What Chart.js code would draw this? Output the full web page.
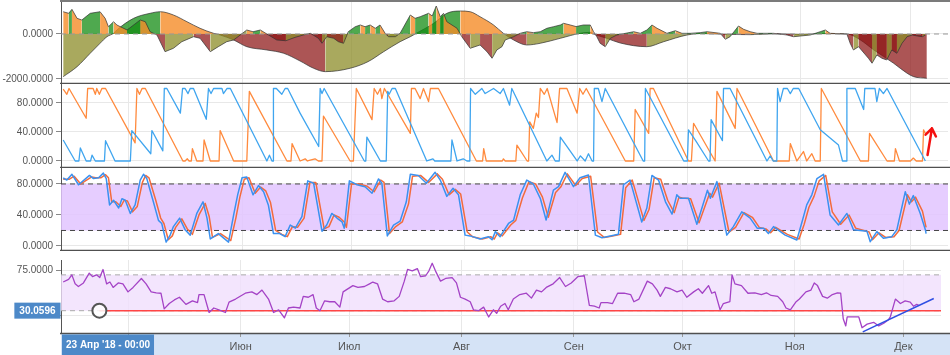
<!DOCTYPE html>
<html><head><meta charset="utf-8">
<script src="https://cdn.jsdelivr.net/npm/chart.js@4.4.0/dist/chart.umd.min.js"></script>
<style>
html,body{margin:0;padding:0;background:#fff;width:950px;height:355px;overflow:hidden}
canvas{position:absolute;left:0}
</style></head><body>
<canvas id="c1" width="950" height="84" style="top:0"></canvas>
<canvas id="c2" width="950" height="84" style="top:84px"></canvas>
<canvas id="c3" width="950" height="83" style="top:168px"></canvas>
<canvas id="c4" width="950" height="104" style="top:251px"></canvas>
<script>
// x = days since 13 Apr 2018
const xMin = -0.6, xMax = 242.4;
const monthDays = [18, 49, 79, 110, 141, 171, 202, 232];
const monthLabels = ['Май', 'Июн', 'Июл', 'Авг', 'Сен', 'Окт', 'Ноя', 'Дек'];
const crossDay = 10;
const crossLabel = "23 Апр '18 - 00:00";
const rsiMark = 30.0596;
const p1Ticks = [-2000, 0], p2Ticks = [0, 40, 80], p3Ticks = [0, 40, 80], p4Ticks = [25, 75];
const stochBands = [20, 80];
const rsiBands = [30, 70];
const rsiTrend = [[220.8, 6.4], [240.4, 43.6]];
const arrowTail = [236.8, 8.3], arrowTip = [238, 45];

const macdFast = [[0,990],[1.5,919],[2.4,1096],[3.8,697],[5.1,622],[7.4,919],[10.1,990],[11.5,697],[12.4,324],[13.8,546],[14.7,400],[17.5,178],[21.1,622],[22.5,546],[23.8,102],[25.7,-44],[27.9,-786],[30.2,-635],[32.5,-342],[35.7,-120],[37.5,-190],[40.3,-786],[42.5,-564],[44.8,-342],[46.7,-266],[50.3,178],[52,100],[54,178],[55.8,0],[58.5,-266],[61,-300],[63.5,-150],[65.8,-44],[67.7,30],[69.9,-191],[70.9,-413],[72.2,-120],[74.1,-191],[75.4,-342],[76.8,-413],[78.1,102],[80,324],[81.4,400],[82.7,324],[84.1,400],[85.5,253],[86.8,400],[88.2,30],[89.1,-120],[91,-120],[92.3,30],[95.1,844],[96.4,697],[97.8,768],[100.1,919],[101.1,800],[102.2,1243],[103.3,768],[104.2,919],[105.1,546],[107.9,253],[109.2,-120],[111.5,-635],[114.2,-488],[116.1,-786],[117.5,-1079],[118.8,-710],[120.2,-564],[121.1,-266],[123.4,-120],[125.2,30],[127,102],[128.8,60],[130.7,102],[132.5,253],[134.3,324],[136.2,400],[137.1,475],[138.9,400],[140.5,330],[142.5,400],[144.4,400],[145.3,102],[146.2,-120],[147.1,-413],[148.5,-564],[149.9,-191],[151.7,-44],[156.3,102],[158.1,30],[159.9,178],[161.3,400],[162.7,253],[165.4,30],[167.7,147],[169.5,30],[171.8,30],[174.5,60],[176.4,102],[180,30],[181.4,-235],[182.7,-120],[185,355],[186.4,209],[188.2,102],[190.1,30],[194.6,30],[198.3,-44],[200.1,-120],[204.7,-44],[207.4,102],[208.8,178],[210.1,30],[214.7,0],[215.6,-413],[216.5,-710],[217.9,-564],[220.6,-1079],[221.6,-1300],[222.9,-933],[224.3,-1079],[225.6,-1154],[227,-710],[228.4,-857],[229.8,-413],[231.2,-120],[232.6,-44],[234,-89],[235.4,-120],[236.2,-44]];

const macdSlow = [[0,-1897],[3.8,-1452],[7.4,-857],[10.1,-413],[12,-120],[13.8,30],[14.7,178],[19.3,697],[23.8,919],[26.6,990],[30.2,844],[33.9,546],[37.5,253],[41.2,30],[43,-44],[46.7,-266],[50.3,-564],[55.8,-710],[60.4,-857],[64.9,-1200],[68.6,-1523],[71.8,-1673],[78.6,-1523],[83.5,-1230],[87.8,-786],[92.3,-342],[95.1,-120],[96.4,0],[101.5,475],[105.1,919],[108.8,1021],[111.5,990],[114.2,768],[117.9,400],[120.6,30],[123.4,-266],[127,-488],[130.7,-413],[136.2,-191],[141.6,30],[144.4,75],[145.3,0],[148.9,-191],[152.6,-400],[159.9,-564],[164.5,-342],[170.9,-44],[174.5,20],[181,-10],[188.2,-30],[195,10],[201.9,-20],[208,15],[214.7,0],[218.4,-266],[222,-700],[227.5,-1300],[231.2,-1745],[233,-1897],[236.6,-1968]];

const aroonOrange = [[0,99],[1,92],[1.6,100],[6.3,59],[6.7,100],[8.2,100],[8.8,92],[9.2,100],[9.9,92],[10.6,100],[11.6,100],[19.7,25],[20.2,100],[20.9,92],[21.6,100],[22.5,100],[32.8,0],[33.4,0],[34,3],[34.5,0],[35.1,0],[35.4,17],[36.6,0],[38.3,0],[38.6,29],[40.3,0],[42.7,0],[43,42],[46.7,0],[50.3,0],[51,96],[61.3,0],[62.4,0],[62.7,24],[64.9,0],[66.3,3],[66.9,0],[69,3],[69.9,0],[70.9,0],[71.3,62],[78.6,0],[79.5,0],[80.3,100],[84.6,57],[85.2,100],[86.1,92],[86.9,100],[87.3,86],[88,100],[95.1,38],[95.4,100],[96.4,100],[97.8,86],[98.7,100],[100.1,82],[100.6,100],[102.8,100],[113.2,0],[114.9,0],[115.2,17],[115.9,0],[120.3,0],[120.6,3],[121.1,0],[124,0],[124.3,22],[127.1,0],[127.5,0],[127.8,54],[128.8,45],[129.6,66],[130.2,60],[130.7,100],[131.8,92],[132.6,100],[135.3,53],[136,100],[138,100],[140.8,66],[141.5,100],[142.4,92],[143.3,100],[154,0],[156.3,0],[156.7,71],[160.4,38],[160.8,100],[161.7,100],[171.3,0],[172.1,0],[172.7,52],[178.6,0],[178.8,0],[179.1,96],[184.1,45],[184.6,100],[194.6,0],[198.9,0],[199.2,24],[201,0],[202.8,13],[203.7,0],[205.1,10],[206,0],[207.4,0],[207.7,100],[218.4,0],[220.6,0],[220.9,38],[225.7,0],[227.7,0],[228,17],[229.1,0],[232.1,0],[232.9,4],[233.7,0],[235.4,0],[235.7,43],[236.2,38]];

const aroonBlue = [[0,29],[3.3,0],[4.3,0],[4.7,18],[6.3,0],[7.5,0],[7.9,8],[8.8,0],[11.3,0],[11.6,28],[14.2,0],[18.4,0],[18.8,42],[24,10],[24.3,42],[27.3,14],[27.7,100],[28.4,100],[32.1,66],[32.7,100],[33.4,100],[34.2,93],[34.8,100],[35.7,100],[39.2,57.5],[39.8,100],[40.5,93],[41.2,100],[43.5,100],[43.9,93],[44.9,100],[45.8,100],[55.8,0],[56.5,8],[57.2,0],[57.5,0],[57.6,100],[58.4,100],[59.9,92],[60.8,100],[61.5,100],[64.9,66],[70,20],[70.4,100],[70.9,93],[71.5,100],[82.5,0],[82.9,0],[83.2,33],[86.9,0],[88.5,0],[88.9,96],[89.3,92],[90.1,100],[91,100],[99.6,0],[101.3,3],[101.8,0],[106.2,0],[106.5,29],[107.9,0],[109.6,3],[110.6,0],[111.4,0],[111.6,100],[112.9,92],[114.7,100],[115.6,93],[117.9,100],[119.7,93],[120.6,100],[122.3,77],[122.9,100],[132.5,0],[133.9,8],[134.8,0],[135.9,0],[136.2,33],[140.8,0],[141.7,7],[143,0],[143.9,10],[144.9,0],[145.3,0],[145.5,100],[146.6,100],[147.6,82],[148.5,100],[158.9,0],[159.3,0],[159.5,100],[170,0],[171,0],[171.3,43],[173.4,27],[176.8,0],[177.2,0],[177.5,57],[180.6,28],[180.9,100],[182.7,100],[192.8,0],[193.7,7],[194.5,0],[195.5,0],[195.7,100],[196.4,82],[197.3,100],[198.4,100],[199.2,93],[200,100],[201.5,100],[207.4,43],[212.4,22],[213.5,0],[214.5,0],[214.7,100],[217,100],[219.3,71],[219.6,100],[222.4,100],[222.9,82],[223.6,100],[224.7,93],[225.7,100],[236.2,0]];

const stochBlue = [[0,88],[1,85],[2.4,92.5],[4.2,79],[7.2,91],[8.3,87],[9.7,88],[11,94],[11.8,87],[12.7,53],[13.8,59],[15.2,49],[16.1,61],[17,59],[18.4,42],[19.7,53],[21.1,85],[22,92.5],[22.9,87],[24.7,57],[26.1,33],[27,29],[28.2,5],[29.3,14],[30.2,25],[31.9,36],[33.4,21],[34.8,14],[36.6,42],[38.3,57],[39.4,36],[40.3,9],[42.5,16],[45.3,5],[46.7,40],[47.8,66],[49,88],[50.3,89],[52,66],[53.5,78],[54.9,70],[56.2,53],[57.6,16],[59.3,16],[60.8,12],[62.2,27],[63.6,23],[65.4,38],[67,84],[68.6,81],[70.9,19],[72.2,27],[73.6,42],[75,36],[76.4,31],[77,23],[78.4,84],[80.5,79],[82.7,76.5],[84.6,68],[86.4,86.5],[87.3,81],[88.8,13],[90.5,27],[92.3,32],[94,57],[95.1,92.5],[97.3,91],[99.5,81],[101.9,95],[103.3,85],[105.1,64],[106.8,74.5],[108.3,66],[110.1,14],[111.5,13],[114.2,9],[116.5,12],[117.5,8],[118.4,18.5],[119.7,12],[122,29],[123.4,33.5],[125.2,66],[127,85],[128.8,80],[130.7,61.5],[132.3,33.5],[134.3,72],[135.7,76.5],[137.5,95],[139.8,76.5],[141.6,88],[143.9,91.6],[145.8,14],[147.6,10.7],[149.9,13],[152.1,15],[153.5,79],[155.3,85],[158.5,31],[159.9,49],[161.3,91],[163.1,85],[165,57],[166.8,41],[168.1,66],[169,61.5],[171.3,61.5],[173.6,28],[176.5,72],[177.3,61.5],[179.1,83],[181.8,14],[183.6,25],[185.9,44],[188.2,36],[190.1,23],[191.9,23],[193.2,16],[194.6,25],[197.8,14],[201,7.7],[202.4,31],[203.7,53],[205.1,66],[206.5,87],[208.3,92.5],[210.1,40],[212.4,27],[214.7,42],[216.5,21],[220.2,19],[221.1,5.5],[222.9,18.5],[224.7,10],[227,12],[228.4,21],[230.7,70],[231.8,54],[232.9,65],[234.8,42],[236.2,21],[236.4,16]];

const stochOrange = [[0,86],[1.6,86],[3,90],[4.8,80],[7.8,89],[8.9,88],[10.3,88],[11.6,92],[12.4,88],[13.3,57],[14.4,57],[15.8,51],[16.7,59],[17.6,58],[19,44],[20.3,51],[21.7,82],[22.6,91],[23.5,88],[25.3,60],[26.7,36],[27.6,29],[28.8,8],[29.9,13],[30.8,24],[32.5,35],[34,22],[35.4,15],[37.2,40],[38.9,55],[40,38],[40.9,11],[43.1,16],[45.9,7],[47.3,36],[48.4,63],[49.6,86],[50.9,88],[52.6,68],[54.1,76],[55.5,71],[56.8,56],[58.2,20],[59.9,15],[61.4,12],[62.8,25],[64.2,24],[66,36],[67.6,82],[69.2,82],[71.5,22],[72.8,25],[74.2,40],[75.6,37],[77,31],[77.6,24],[79,80],[81.1,80],[83.3,77],[85.2,70],[87,85],[87.9,82],[89.4,16],[91.1,25],[92.9,31],[94.6,54],[95.7,90],[97.9,91],[100.1,82],[102.5,93],[103.9,86],[105.7,66],[107.4,73],[108.9,67],[110.7,18],[112.1,12],[114.8,9],[117.1,12],[118.1,9],[119,17],[120.3,13],[122.6,27],[124,33],[125.8,62],[127.6,83],[129.4,80],[131.3,63],[132.9,37],[134.9,69],[136.3,76],[138.1,93],[140.4,78],[142.2,87],[144.5,90],[146.4,18],[148.2,11],[150.5,13],[152.7,15],[154.1,75],[155.9,85],[159.1,33],[160.5,47],[161.9,88],[163.7,86],[165.6,59],[167.4,43],[168.7,63],[169.6,62],[171.9,61],[174.2,30],[177.1,68],[177.9,63],[179.7,81],[182.4,18],[184.2,24],[186.5,43],[188.8,37],[190.7,24],[192.5,22],[193.8,17],[195.2,24],[198.4,15],[201.6,9],[203,28],[204.3,50],[205.7,64],[207.1,84],[208.9,91],[210.7,44],[213,28],[215.3,40],[217.1,23],[220.8,18],[221.7,8],[223.5,17],[225.3,11],[227.6,12],[229,20],[231.3,66],[232.4,57],[233.5,63],[235.4,45],[236.4,24]];

const rsi = [[0,62],[1.5,65],[2.4,70],[3.3,60],[4.2,57],[5.6,61],[7.2,72],[8.1,68],[9.2,70],[10.1,67],[11,76],[12,60],[12.9,62],[13.8,56],[15.2,61],[16.5,60],[17.9,51],[19.3,56],[21.6,66],[22.9,60],[24.3,51],[25.7,50],[27,49.5],[27.9,32],[29.3,38],[30.7,42],[32.1,45],[33.9,37],[35.7,41],[37.1,39],[37.5,48],[38.9,48],[40.3,28],[41.6,33],[43,31],[44.8,28],[45.8,39.6],[47.6,43],[50.3,49.5],[52.1,51],[53.5,48],[54.9,53],[56.7,43],[58.1,28],[59.5,31],[61.1,22],[62.2,33],[63.6,34],[65.4,33],[66.3,46],[67.7,45],[69,48],[69.9,33],[70.9,30],[72.2,41],[73.6,40],[75,40],[76.4,34],[77.3,51],[80,58],[81.4,56],[83.2,57],[84.6,60],[85.5,62],[86.8,60],[88.2,43],[89.6,40],[91.4,41],[92.8,46],[94.2,63],[95.1,76],[96.4,74.5],[97.8,77],[98.7,68],[100.1,69],[101,74.5],[101.9,83],[102.8,74.5],[104.2,63],[105.6,66],[107.4,67],[108.6,61],[109.7,45],[111,43],[112.4,40],[113.3,31],[114.7,30],[116.1,34],[117.5,23],[118.8,31],[119.7,27],[120.8,35],[122,38],[122.9,31],[124.3,43],[126.1,48],[127.9,49.5],[129.3,44],[130.7,53],[132.1,51],[133.4,56],[135.3,60],[137.1,67],[138.7,57],[140.3,61],[142.1,68],[143.9,69],[145.3,36],[146.7,35],[148,33],[148.5,39],[150.3,39],[151.7,38],[153.1,49.5],[154.9,49.5],[156.7,48],[157.6,40],[159,43],[161.3,63],[162.7,60],[164,53],[164.9,46],[166.3,56],[167.7,54.5],[169.5,51],[170.9,53],[172.2,45],[174.1,51],[175.4,54.5],[176.5,49.5],[178.2,58],[179.1,49.5],[180,51],[181.4,31],[182.3,38],[184.1,40],[184.7,70],[185.5,60],[187.3,58],[189.1,49.5],[191,50],[192.8,48],[194.2,50],[195.5,47],[197.3,46],[198.7,40],[199.6,33],[200.8,31],[202.4,40],[203.3,43],[205.1,51],[206.5,53],[207.4,61],[208.3,58],[209.7,46],[211,44],[212.4,48],[213.8,50],[214.7,49.5],[215.4,21],[216.1,13],[216.5,23],[218.4,23],[219.7,23],[220.6,11],[222,15],[223.8,17],[225.2,13],[226.6,16],[227.9,20],[228.4,23],[229.8,43],[231.2,38],[232.5,41],[233.9,39.6],[234.8,35],[235.7,37],[236.4,35.7]];

// ---------- styling ----------
const FONT = '"Liberation Sans", Arial, sans-serif';
Chart.defaults.font.family = FONT;
Chart.defaults.font.size = 10;
Chart.defaults.color = '#555';
const GREEN = 'rgba(20,140,20,0.75)', ORANGE = 'rgba(245,140,40,0.8)',
      MAROON = 'rgba(140,20,20,0.72)', OLIVE = 'rgba(140,140,40,0.75)';
const pts = a => a.map(p => ({x: p[0], y: p[1]}));
const hline = v => [{x: xMin, y: v}, {x: xMax, y: v}];
function macdColor(c) {
  const y0 = c.p0.parsed.y, y1 = c.p1.parsed.y, up = y1 >= y0;
  if ((y0 + y1) / 2 >= 0) return up ? GREEN : ORANGE;
  return up ? OLIVE : MAROON;
}
function opts(yMin, yMax, yTicks, pad, xLabels) {
  return {
    responsive: false, animation: false, events: [],
    layout: {padding: pad},
    plugins: {legend: {display: false}, tooltip: {enabled: false}},
    elements: {point: {radius: 0}, line: {borderJoinStyle: 'round'}},
    scales: {
      x: {type: 'linear', min: xMin, max: xMax,
        afterBuildTicks: s => { s.ticks = monthDays.map(v => ({value: v})); },
        afterFit: s => { s.height = xLabels ? 22 : 0; s.paddingLeft = 0; s.paddingRight = 0; },
        grid: {color: '#e8e8e8', drawTicks: !!xLabels, tickLength: 4, tickColor: '#999'},
        border: {display: false},
        ticks: {display: !!xLabels, autoSkip: false, maxRotation: 0, color: '#555', padding: 3,
          font: {size: 11},
          callback: v => monthLabels[monthDays.indexOf(v)] || ''}
      },
      y: {min: yMin, max: yMax,
        afterBuildTicks: s => { s.ticks = yTicks.map(v => ({value: v})); },
        afterFit: s => { s.width = 61; s.paddingTop = 0; s.paddingBottom = 0; },
        grid: {color: '#e8e8e8', tickLength: 5, tickColor: '#888'},
        border: {display: true, color: '#555', width: 1},
        ticks: {color: '#555', padding: 3, font: {size: 10}, callback: v => Number(v).toFixed(4)}
      }
    }
  };
}
const sep = {id: 'sep', afterDraw(c) {
  const {ctx, chartArea: a} = c;
  ctx.save(); ctx.strokeStyle = '#505050'; ctx.lineWidth = 1.5;
  ctx.beginPath(); ctx.moveTo(a.left - 1, a.bottom + 0.5); ctx.lineTo(c.width, a.bottom + 0.5);
  if (c.canvas.id === 'c1') { ctx.moveTo(a.left - 1, 1); ctx.lineTo(c.width, 1); }
  ctx.stroke(); ctx.restore();
}};

// ---------- panel 1 ----------
new Chart(document.getElementById('c1'), {
  type: 'line',
  data: {datasets: [
    {data: hline(0), borderColor: '#9a9a9a', borderWidth: 1.2, borderDash: [5, 4], fill: false, order: 1},
    {data: pts(macdFast), borderColor: 'rgba(50,50,50,0.7)', borderWidth: 1, fill: 'origin',
     backgroundColor: OLIVE, segment: {backgroundColor: macdColor}, order: 2},
    {data: pts(macdSlow), borderColor: 'rgba(50,50,50,0.7)', borderWidth: 1, fill: 'origin',
     cubicInterpolationMode: 'monotone', backgroundColor: OLIVE, segment: {backgroundColor: macdColor}, order: 3}
  ]},
  options: opts(-2178, 1422, p1Ticks, {top: 2, bottom: 1, left: 0, right: 2}, false),
  plugins: [sep]
});

// ---------- panel 2 ----------
const arrow = {id: 'arrow', afterDraw(c) {
  const {ctx, scales: {x, y}} = c;
  const x0 = x.getPixelForValue(arrowTail[0]), y0 = y.getPixelForValue(arrowTail[1]);
  const x1 = x.getPixelForValue(arrowTip[0]), y1 = y.getPixelForValue(arrowTip[1]);
  ctx.save(); ctx.strokeStyle = '#f41010'; ctx.lineWidth = 2.5; ctx.lineCap = 'round';
  ctx.beginPath(); ctx.moveTo(x0, y0); ctx.lineTo(x1, y1);
  const ang = Math.atan2(y1 - y0, x1 - x0);
  for (const s of [-1, 1]) { const a2 = ang + Math.PI + s * 0.62; ctx.moveTo(x1, y1); ctx.lineTo(x1 + 9 * Math.cos(a2), y1 + 9 * Math.sin(a2)); }
  ctx.stroke(); ctx.restore();
}};
new Chart(document.getElementById('c2'), {
  type: 'line',
  data: {datasets: [
    {data: pts(aroonOrange), borderColor: '#ff8a3d', borderWidth: 1.3, fill: false, order: 2},
    {data: pts(aroonBlue), borderColor: '#3fa5ef', borderWidth: 1.3, fill: false, order: 1}
  ]},
  options: opts(-8.3, 106.2, p2Ticks, {top: 0, bottom: 1, left: 0, right: 2}, false),
  plugins: [sep, arrow]
});

// ---------- panel 3 ----------
new Chart(document.getElementById('c3'), {
  type: 'line',
  data: {datasets: [
    {data: hline(stochBands[1]), borderWidth: 0, fill: {value: stochBands[0]}, backgroundColor: 'rgba(226,196,255,0.85)', order: 20},
    {data: hline(stochBands[1]), borderColor: '#444', borderWidth: 1, borderDash: [5, 4], fill: false, order: 5},
    {data: hline(stochBands[0]), borderColor: '#444', borderWidth: 1, borderDash: [5, 4], fill: false, order: 5},
    {data: pts(stochOrange), borderColor: '#f36b3c', borderWidth: 1.5, fill: false, order: 2},
    {data: pts(stochBlue), borderColor: '#3b91f0', borderWidth: 1.5, fill: false, order: 1}
  ]},
  options: opts(-5.2, 100.6, p3Ticks, {top: 0, bottom: 1, left: 0, right: 2}, false),
  plugins: [sep]
});

// ---------- panel 4 ----------
const band = {id: 'band', beforeDraw(c) {
  const {ctx, chartArea: a} = c;
  ctx.save(); ctx.fillStyle = '#d5e3f6'; ctx.fillRect(a.left, a.bottom, c.width - a.left, c.height - a.bottom); ctx.restore();
}};
const marks = {id: 'marks', afterDraw(c) {
  const {ctx, chartArea: a, scales: {x, y}} = c;
  ctx.save();
  ctx.font = 'bold 10px ' + FONT;
  const cx = x.getPixelForValue(crossDay);
  const tw = ctx.measureText(crossLabel).width, bw = tw + 8;
  const bx = Math.max(a.left + 1, cx - bw / 2);
  ctx.fillStyle = '#4d89c8'; ctx.fillRect(bx, a.bottom + 1.5, bw, c.height - a.bottom - 1.5);
  ctx.fillStyle = '#fff'; ctx.textAlign = 'center'; ctx.textBaseline = 'middle';
  ctx.fillText(crossLabel, bx + bw / 2, (a.bottom + c.height) / 2 + 1);
  const vy = y.getPixelForValue(rsiMark), vt = rsiMark.toFixed(4);
  const vw = ctx.measureText(vt).width + 10;
  ctx.fillStyle = '#4d89c8'; ctx.fillRect(a.left - vw - 0.5, vy - 8, vw, 16);
  ctx.fillStyle = '#fff'; ctx.fillText(vt, a.left - vw / 2 - 0.5, vy + 0.5);
  ctx.restore();
}};
new Chart(document.getElementById('c4'), {
  type: 'line',
  data: {datasets: [
    {data: hline(rsiBands[1]), borderWidth: 0, fill: {value: rsiBands[0]}, backgroundColor: 'rgba(240,222,252,0.8)', order: 20},
    {data: hline(rsiBands[1]), borderColor: '#aaa', borderWidth: 1, borderDash: [5, 4], fill: false, order: 6},
    {data: hline(rsiBands[0]), borderColor: '#aaa', borderWidth: 1, borderDash: [5, 4], fill: false, order: 6},
    {data: [{x: crossDay, y: rsiMark}, {x: xMax, y: rsiMark}], borderColor: '#ff4545', borderWidth: 1.5, fill: false, order: 4},
    {data: pts(rsi), borderColor: '#a443c6', borderWidth: 1.3, fill: false, order: 3},
    {data: pts(rsiTrend), borderColor: '#2f4fe3', borderWidth: 1.5, fill: false, order: 2},
    {data: [{x: crossDay, y: rsiMark}], showLine: false, pointRadius: 7, pointBackgroundColor: 'rgba(255,255,255,0.85)',
     pointBorderColor: '#555', pointBorderWidth: 2, order: 1}
  ]},
  options: opts(5.1, 86.6, p4Ticks, {top: 0, bottom: 0, left: 0, right: 2}, true),
  plugins: [band, sep, marks]
});
</script>
</body></html>
